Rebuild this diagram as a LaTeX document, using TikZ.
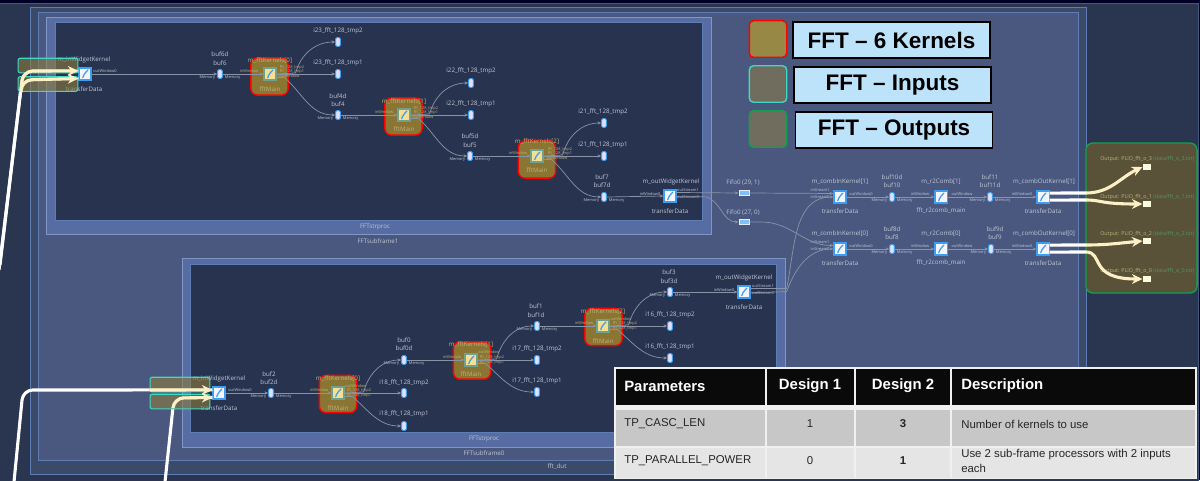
\documentclass[tikz,border=0pt]{standalone}
\usepackage{fontspec}
\setmainfont{Open Sans}
\newfontfamily\arialfont{Liberation Sans}
\usetikzlibrary{arrows.meta}

\definecolor{bgdark}{HTML}{2A3650}
\definecolor{framedut}{HTML}{3A4A68}
\definecolor{framesub}{HTML}{4A5880}
\definecolor{framestr}{HTML}{566CA2}
\definecolor{framelin}{HTML}{5F7DB5}
\definecolor{paneldark}{HTML}{283350}
\definecolor{kernelfill}{HTML}{8A7632}
\definecolor{inputfill}{HTML}{8C7C3C}
\definecolor{outputfill}{HTML}{5A5238}
\definecolor{iconblue}{HTML}{3D9EF0}
\definecolor{creamline}{HTML}{FDF0C4}
\definecolor{wiregray}{HTML}{8A93A5}
\definecolor{legendblue}{HTML}{BDE3FB}
\definecolor{labelgray}{HTML}{C0C6D4}
\definecolor{labeltan}{HTML}{BDB07C}
\definecolor{labelgreen}{HTML}{4E9A62}
\definecolor{tealedge}{HTML}{3FD9BF}
\definecolor{greenedge}{HTML}{10A050}
\definecolor{swatchgray}{HTML}{706C5E}
\definecolor{swatchgold}{HTML}{978845}
\definecolor{fftyellow}{HTML}{F6DF90}
\definecolor{fftedge}{HTML}{6FA090}

\begin{document}
\begin{tikzpicture}[
  x=0.025cm,
  y=-0.025cm,
  nametext/.style={
    text=labelgray,
    font=\fontsize{4.4}{6}\selectfont,
    align=center,
    inner sep=0pt
  },
  porttext/.style={
    text=labelgray,
    font=\fontsize{2.8}{3.2}\selectfont,
    inner sep=0pt
  },
  tantext/.style={nametext, text=labeltan},
  tanport/.style={porttext, text=labeltan},
  outlabel/.style={
    tantext,
    anchor=west,
    font=\fontsize{3.8}{5}\selectfont
  },
  widget/.style={
    draw=iconblue,
    fill=blue!4!white,
    line width=0.8pt,
    minimum size=8.6pt,
    inner sep=0pt,
    path picture={
      \draw[line width=.9pt, color=iconblue, line cap=round]
        ([shift={(-1.6pt,-2.6pt)}]path picture bounding box.center)
        .. controls +(.4pt,2pt) and +(-1pt,-1pt) ..
        ([shift={(2pt,2.8pt)}]path picture bounding box.center);
    }
  },
  fftbox/.style={
    widget,
    draw=fftedge,
    fill=fftyellow
  },
  bufbox/.style={
    draw=iconblue,
    fill=blue!12!white,
    line width=0.6pt,
    rounded corners=1pt,
    minimum width=3.4pt,
    minimum height=6.4pt,
    inner sep=0pt
  },
  membuf/.style={
    bufbox,
    name=#1,
    label={[porttext, name=#1l, anchor=center, xshift=-9pt, yshift=-2.5pt]center:Memory},
    label={[porttext, name=#1r, anchor=center, xshift=9pt, yshift=-2.5pt]center:Memory}
  },
  fifobox/.style={
    draw=blue!8!white,
    fill=iconblue!65!white,
    line width=0.6pt,
    minimum width=7.2pt,
    minimum height=4pt,
    inner sep=0pt
  },
  pliobox/.style={
    fill=green!8!yellow!12!white,
    minimum width=6pt,
    minimum height=4pt,
    inner sep=0pt
  },
  kernelzone/.style={
    draw=red,
    fill=kernelfill,
    line width=1pt,
    rounded corners=4.5pt,
    minimum size=26.4pt,
    inner sep=0pt
  },
  inputzone/.style={
    draw=tealedge,
    fill=inputfill,
    fill opacity=0.6,
    line width=0.8pt,
    rounded corners=1.5pt,
    minimum width=42.5pt,
    minimum height=10.4pt,
    inner sep=0pt
  },
  wire/.style={
    color=wiregray,
    line width=0.5pt,
    -{Stealth[length=2.6pt,width=2.2pt]}
  },
  thickwhite/.style={color=white, line width=2.2pt, rounded corners=7pt},
  thickcream/.style={
    color=creamline,
    line width=2.2pt,
    rounded corners=7pt,
    -{Stealth[length=7.5pt,width=7pt]}
  },
  legendbox/.style={
    draw=black,
    fill=legendblue,
    line width=0.9pt,
    font=\arialfont\bfseries\fontsize{16}{19}\selectfont,
    text=black,
    minimum width=140pt,
    minimum height=25.6pt,
    inner sep=0pt
  },
  swatch/.style={
    line width=1pt,
    rounded corners=3pt,
    minimum width=26.6pt,
    minimum height=26pt,
    inner sep=0pt
  },
  headtext/.style={
    text=white,
    font=\arialfont\bfseries\fontsize{10.6}{12}\selectfont,
    inner sep=0pt
  },
  celltext/.style={
    text=black!85,
    font=\arialfont\fontsize{8.1}{10.4}\selectfont,
    align=left,
    inner sep=0pt
  }
]

% Canvas, 1200 by 480, coordinates in pixels
\path[use as bounding box] (0,0) rectangle (1200,480);
\fill[black!85!blue] (0,0) rectangle (1200,480);
\draw[color=framelin!70!black, fill=bgdark, line width=0.6pt] (-10,3) rectangle (1198,490);

% Nested frames
\draw[color=framelin, fill=framedut, line width=0.7pt] (30,7) rectangle (1086,474);
\draw[color=framelin, fill=framesub, line width=0.7pt] (38,12) rectangle (1078,460);
\draw[color=framelin!80!white, fill=framestr, line width=0.7pt] (46,17) rectangle (711,234);
\draw[color=framelin, fill=paneldark, line width=0.7pt] (55,22) rectangle (702,220);
\draw[color=framelin!80!white, fill=framestr, line width=0.7pt] (182,258) rectangle (785,447);
\draw[color=framelin, fill=paneldark, line width=0.7pt] (190,264) rectangle (776,432);

% Frame captions
\node[nametext] (strproc1) at (375,227) {FFTstrproc};
\node[nametext] (subframe1) at (378,241) {FFTsubframe1};
\node[nametext] (strproc0) at (484,439) {FFTstrproc};
\node[nametext] (subframe0) at (484,453) {FFTsubframe0};
\node[nametext] (dutname) at (557,467) {fft\_dut};

% Kernel zones
\node[kernelzone] (kz0) at (269.5,76.5) {};
\node[kernelzone] (kz1) at (403.5,116.5) {};
\node[kernelzone] (kz2) at (537,159.5) {};
\node[kernelzone] (lz0) at (338,394) {};
\node[kernelzone] (lz1) at (472,360.5) {};
\node[kernelzone] (lz2) at (603.5,327) {};

% Upper processor
\node[widget] (wi1) at (85,74) {};
\node[nametext] (wi1t) at (84,60) {m\_inWidgetKernel};
\node[nametext] (wi1b) at (84,89) {transferData};
\node[porttext] (wi1p) at (105,71) {outWindow0};
\node[nametext] (b6t) at (220,58.5) {buf6d\\buf6};
\node[membuf=b6] at (220,74) {};
\node[fftbox] (kf0) at (270,74) {};
\node[tantext] (kf0t) at (270,61) {m\_fftKernels[0]};
\node[tantext] (kf0b) at (270,89) {fftMain};
\node[tanport] (kf0p) at (249,71) {inWindow};
\node[tanport] (kf0q) at (292,67) {fft\_128\_tmp2};
\node[tanport] (kf0r) at (292,71) {fft\_128\_tmp1};
\node[tanport] (kf0s) at (289,76) {outWindow};
\node[nametext] (t23b) at (338,31) {i23\_fft\_128\_tmp2};
\node[bufbox] (t23) at (338,42) {};
\node[nametext] (t13b) at (338,63) {i23\_fft\_128\_tmp1};
\node[bufbox] (t13) at (338,74) {};
\node[nametext] (b4t) at (338,100) {buf4d\\buf4};
\node[membuf=b4] at (338,115) {};
\node[fftbox] (kf1) at (404,115) {};
\node[tantext] (kf1t) at (404,102) {m\_fftKernels[1]};
\node[tantext] (kf1b) at (404,129.5) {fftMain};
\node[tanport] (kf1p) at (384,112) {inWindow};
\node[tanport] (kf1q) at (426,108) {fft\_128\_tmp2};
\node[tanport] (kf1r) at (426,112) {fft\_128\_tmp1};
\node[tanport] (kf1s) at (423,117) {outWindow};
\node[nametext] (t22b) at (471,71) {i22\_fft\_128\_tmp2};
\node[bufbox] (t22) at (471,83) {};
\node[nametext] (t12b) at (471,104) {i22\_fft\_128\_tmp1};
\node[bufbox] (t12) at (471,115) {};
\node[nametext] (b5t) at (470,140.5) {buf5d\\buf5};
\node[membuf=b5] at (470,156) {};
\node[fftbox] (kf2) at (537,156) {};
\node[tantext] (kf2t) at (537,142) {m\_fftKernels[2]};
\node[tantext] (kf2b) at (537,170.5) {fftMain};
\node[tanport] (kf2p) at (518,153) {inWindow};
\node[tanport] (kf2q) at (560,149) {fft\_128\_tmp2};
\node[tanport] (kf2r) at (560,153) {fft\_128\_tmp1};
\node[tanport] (kf2s) at (557,158) {outWindow};
\node[nametext] (t21b) at (603,112) {i21\_fft\_128\_tmp2};
\node[bufbox] (t21) at (604,123) {};
\node[nametext] (t11b) at (603,145) {i21\_fft\_128\_tmp1};
\node[bufbox] (t11) at (604,156) {};
\node[nametext] (b7t) at (602,181) {buf7\\buf7d};
\node[membuf=b7] at (604,197) {};
\node[widget] (wo1) at (670,196) {};
\node[nametext] (wo1t) at (671,182) {m\_outWidgetKernel};
\node[nametext] (wo1b) at (670,211) {transferData};
\node[porttext] (wo1p) at (650,194) {inWindow0};
\node[porttext] (wo1q) at (688,190) {outStream1};
\node[porttext] (wo1r) at (688,197) {outStream0};

% Stream fifos
\node[nametext] (ff1t) at (743,183) {Fifo0 (29, 1)};
\node[fifobox] (ff1) at (744,193) {};
\node[nametext] (ff0t) at (743,213) {Fifo0 (27, 0)};
\node[fifobox] (ff0) at (744,222) {};

% Combiner, upper row
\node[widget] (wc1) at (840,197) {};
\node[nametext] (wc1t) at (840,182) {m\_combInKernel[1]};
\node[nametext] (wc1b) at (840,211) {transferData};
\node[porttext] (wc1p) at (820,190) {inStream1};
\node[porttext] (wc1q) at (820,197) {inStream0};
\node[porttext] (wc1r) at (861,194) {outWindow0};
\node[nametext] (b10t) at (892,181) {buf10d\\buf10};
\node[membuf=b10] at (892,197) {};
\node[widget] (r1) at (941,197) {};
\node[nametext] (r1t) at (941,182) {m\_r2Comb[1]};
\node[nametext] (r1b) at (941,211) {fft\_r2comb\_main};
\node[porttext] (r1p) at (920,194) {inWindow};
\node[porttext] (r1q) at (962,194) {outWindow};
\node[nametext] (b11t) at (990,181) {buf11\\buf11d};
\node[membuf=b11] at (990,197) {};
\node[widget] (wx1) at (1043,197) {};
\node[nametext] (wx1t) at (1044,182) {m\_combOutKernel[1]};
\node[nametext] (wx1b) at (1043,211) {transferData};
\node[porttext] (wx1p) at (1022,194) {inWindow0};

% Combiner, lower row
\node[widget] (wc0) at (840,249) {};
\node[nametext] (wc0t) at (840,234) {m\_combInKernel[0]};
\node[nametext] (wc0b) at (840,263) {transferData};
\node[porttext] (wc0p) at (820,242) {inStream1};
\node[porttext] (wc0q) at (820,249) {inStream0};
\node[porttext] (wc0r) at (861,246) {outWindow0};
\node[nametext] (b8t) at (892,233) {buf8d\\buf8};
\node[membuf=b8] at (892,249) {};
\node[widget] (r0) at (941,249) {};
\node[nametext] (r0t) at (941,234) {m\_r2Comb[0]};
\node[nametext] (r0b) at (941,263) {fft\_r2comb\_main};
\node[porttext] (r0p) at (920,246) {inWindow};
\node[porttext] (r0q) at (962,246) {outWindow};
\node[nametext] (b9t) at (995,233) {buf9d\\buf9};
\node[membuf=b9] at (991,249) {};
\node[widget] (wx0) at (1043,249) {};
\node[nametext] (wx0t) at (1044,234) {m\_combOutKernel[0]};
\node[nametext] (wx0b) at (1043,263) {transferData};
\node[porttext] (wx0p) at (1022,246) {inWindow0};

% Lower processor
\node[widget] (wi0) at (219,393) {};
\node[nametext] (wi0t) at (219,379) {m\_inWidgetKernel};
\node[nametext] (wi0b) at (219,408) {transferData};
\node[porttext] (wi0p) at (240,390) {outWindow0};
\node[nametext] (b2t) at (269,378) {buf2\\buf2d};
\node[membuf=b2] at (271,393) {};
\node[fftbox] (lf0) at (338,393) {};
\node[tantext] (lf0t) at (338,379) {m\_fftKernels[0]};
\node[tantext] (lf0b) at (338,408) {fftMain};
\node[tanport] (lf0p) at (319,390) {inWindow};
\node[tanport] (lf0q) at (356,386) {outWindow};
\node[tanport] (lf0r) at (359,390) {fft\_128\_tmp2};
\node[tanport] (lf0s) at (359,395) {fft\_128\_tmp1};
\node[nametext] (b0t) at (404,344) {buf0\\buf0d};
\node[membuf=b0] at (404,360) {};
\node[nametext] (t18b) at (404,383) {i18\_fft\_128\_tmp2};
\node[bufbox] (t18) at (404,393) {};
\node[nametext] (t08b) at (404,414) {i18\_fft\_128\_tmp1};
\node[bufbox] (t08) at (404,426) {};
\node[fftbox] (lf1) at (471,360) {};
\node[tantext] (lf1t) at (471,345) {m\_fftKernels[1]};
\node[tantext] (lf1b) at (471,374) {fftMain};
\node[tanport] (lf1p) at (452,357) {inWindow};
\node[tanport] (lf1q) at (489,352) {outWindow};
\node[tanport] (lf1r) at (492,357) {fft\_128\_tmp2};
\node[tanport] (lf1s) at (492,362) {fft\_128\_tmp1};
\node[nametext] (b1t) at (536,310.5) {buf1\\buf1d};
\node[membuf=b1] at (537,326) {};
\node[nametext] (t17b) at (537,349) {i17\_fft\_128\_tmp2};
\node[bufbox] (t17) at (537,360) {};
\node[nametext] (t07b) at (537,381) {i17\_fft\_128\_tmp1};
\node[bufbox] (t07) at (537,392) {};
\node[fftbox] (lf2) at (603,326) {};
\node[tantext] (lf2t) at (603,312) {m\_fftKernels[2]};
\node[tantext] (lf2b) at (603,341) {fftMain};
\node[tanport] (lf2p) at (584,323) {inWindow};
\node[tanport] (lf2q) at (621,319) {outWindow};
\node[tanport] (lf2r) at (625,323) {fft\_128\_tmp2};
\node[tanport] (lf2s) at (625,328) {fft\_128\_tmp1};
\node[nametext] (b3t) at (669,276.5) {buf3\\buf3d};
\node[membuf=b3] at (670,292) {};
\node[nametext] (t16b) at (670,315) {i16\_fft\_128\_tmp2};
\node[bufbox] (t16) at (670,326) {};
\node[nametext] (t06b) at (670,347) {i16\_fft\_128\_tmp1};
\node[bufbox] (t06) at (670,358) {};
\node[widget] (wo0) at (744,292) {};
\node[nametext] (wo0t) at (744,278) {m\_outWidgetKernel};
\node[nametext] (wo0b) at (744,307) {transferData};
\node[porttext] (wo0p) at (724,290) {inWindow0};
\node[porttext] (wo0q) at (763,286) {outStream1};
\node[porttext] (wo0r) at (763,293) {outStream0};

% Upper processor wires
\draw[wire] (wi1.east) -- (b6.west);
\draw[wire] (b6.east) -- (kf0.west);
\draw[wire] (kf0.east) -- ++(19,-1) to[out=75,in=180] (t23.west);
\draw[wire] (kf0.east) -- (t13.west);
\draw[wire] ([yshift=-2.5pt]kf0.east) -- ++(8,0) to[out=-42,in=180] (b4.west);
\draw[wire] (b4.east) -- (kf1.west);
\draw[wire] (kf1.east) -- ++(19,-1) to[out=75,in=180] (t22.west);
\draw[wire] (kf1.east) -- (t12.west);
\draw[wire] ([yshift=-2.5pt]kf1.east) -- ++(8,0) to[out=-42,in=180] (b5.west);
\draw[wire] (b5.east) -- (kf2.west);
\draw[wire] (kf2.east) -- ++(19,-1) to[out=75,in=180] (t21.west);
\draw[wire] (kf2.east) -- (t11.west);
\draw[wire] ([yshift=-2.5pt]kf2.east) -- ++(8,0) to[out=-42,in=180] (b7.west);
\draw[wire] (b7.east) -- (wo1.west);

% Lower processor wires
\draw[wire] (wi0.east) -- (b2.west);
\draw[wire] (b2.east) -- (lf0.west);
\draw[wire] (lf0.east) -- ++(19,-1) to[out=75,in=180] (b0.west);
\draw[wire] (lf0.east) -- (t18.west);
\draw[wire] ([yshift=-2.5pt]lf0.east) -- ++(8,0) to[out=-42,in=180] (t08.west);
\draw[wire] (b0.east) -- (lf1.west);
\draw[wire] (lf1.east) -- ++(19,-1) to[out=75,in=180] (b1.west);
\draw[wire] (lf1.east) -- (t17.west);
\draw[wire] ([yshift=-2.5pt]lf1.east) -- ++(8,0) to[out=-42,in=180] (t07.west);
\draw[wire] (b1.east) -- (lf2.west);
\draw[wire] (lf2.east) -- ++(19,-1) to[out=75,in=180] (b3.west);
\draw[wire] (lf2.east) -- (t16.west);
\draw[wire] ([yshift=-2.5pt]lf2.east) -- ++(8,0) to[out=-42,in=180] (t06.west);
\draw[wire] (b3.east) -- (wo0.west);

% Streams into the combiners
\draw[wire] ([yshift=2.5pt]wo1.east) -- (ff1.west);
\draw[wire] (ff1.east) -- ([yshift=2.5pt]wc1.west);
\draw[wire] ([yshift=-.5pt]wo1.east) -- ++(28,0) to[out=-10,in=180] (ff0.west);
\draw[wire] (ff0.east) -- ++(12,0) to[out=0,in=180] ([yshift=2.5pt]wc0.west);
\draw[wire] ([yshift=2.5pt]wo0.east) -- ++(36,0) to[out=78,in=180] (wc1.west);
\draw[wire] ([yshift=-.5pt]wo0.east) -- ++(36,-1) to[out=70,in=180] (wc0.west);

% Combiner wires
\draw[wire] (wc1.east) -- (b10.west);
\draw[wire] (b10.east) -- (r1.west);
\draw[wire] (r1.east) -- (b11.west);
\draw[wire] (b11.east) -- (wx1.west);
\draw[wire] (wc0.east) -- (b8.west);
\draw[wire] (b8.east) -- (r0.west);
\draw[wire] (r0.east) -- (b9.west);
\draw[wire] (b9.east) -- (wx0.west);

% Output zone
\node[
  draw=greenedge,
  fill=outputfill,
  line width=1pt,
  rounded corners=5pt,
  minimum width=79pt,
  minimum height=106.7pt,
  inner sep=0pt
] (outzone) at (1141.5,218) {};
\node[pliobox] (po3) at (1147,167) {};
\node[pliobox] (po1) at (1147,204) {};
\node[pliobox] (po2) at (1147,241) {};
\node[pliobox] (po0) at (1147,279) {};
\node[outlabel] (po3t) at (1100,159) {Output: PLIO\_fft\_o\_3 \textcolor{labelgreen}{(data/fft\_o\_3.txt)}};
\node[outlabel] (po1t) at (1100,197) {Output: PLIO\_fft\_o\_1 \textcolor{labelgreen}{(data/fft\_o\_1.txt)}};
\node[outlabel] (po2t) at (1100,234) {Output: PLIO\_fft\_o\_2 \textcolor{labelgreen}{(data/fft\_o\_2.txt)}};
\node[outlabel] (po0t) at (1100,271) {Output: PLIO\_fft\_o\_0 \textcolor{labelgreen}{(data/fft\_o\_0.txt)}};

% Output streams
\coordinate (ex3) at (1086,193);
\coordinate (ex1) at (1086,200);
\coordinate (ex2) at (1086,245);
\coordinate (ex0) at (1086,252);
\draw[thickwhite] ([yshift=2.8pt]wx1.east) -- (ex3);
\draw[thickwhite] ([yshift=-2.2pt]wx1.east) -- (ex1);
\draw[thickwhite] ([yshift=2.8pt]wx0.east) -- (ex2);
\draw[thickwhite] ([yshift=-2.2pt]wx0.east) -- (ex0);
\draw[thickcream] (ex3) to[out=0,in=205] (po3.west);
\draw[thickcream] (ex1) .. controls (1102,200) and (1100,204) .. (po1.west);
\draw[thickcream] (ex2) to[out=0,in=185] (po2.west);
\draw[thickcream] (ex0) .. controls (1104,252) and (1088,279) .. (po0.west);

% Input streams, upper processor
\coordinate (in3) at (0,265);
\coordinate (in1) at (-1,270);
\coordinate (cr3) at (21,90);
\coordinate (cr1) at (21,92);
\draw[thickwhite] (in3) -- (23,71) -- ([yshift=2.2pt]wi1.west);
\draw[thickwhite] (in1) -- (22,80) -- ([yshift=-3.2pt]wi1.west);
\node[inputzone] (iz3) at (48,65.5) {};
\node[inputzone] (iz1) at (48,84) {};
\draw[thickcream] (cr3) -- (23,71) -- ([yshift=2.2pt]wi1.west);
\draw[thickcream] (cr1) -- (22,80) -- ([yshift=-3.2pt]wi1.west);

% Input streams, lower processor
\coordinate (in2) at (14,482);
\coordinate (in0) at (165,482);
\coordinate (cr2) at (150,390);
\coordinate (cr0) at (173,408);
\draw[thickwhite] (in2) -- (23,390) -- ([yshift=2.2pt]wi0.west);
\draw[thickwhite] (in0) -- (174,398) -- ([yshift=-3.2pt]wi0.west);
\node[inputzone] (iz2) at (180,384.5) {};
\node[inputzone] (iz0) at (180,401.5) {};
\draw[thickcream] (cr2) -- ([yshift=2.2pt]wi0.west);
\draw[thickcream] (cr0) -- (174,398) -- ([yshift=-3.2pt]wi0.west);

% Legend
\node[swatch, draw=red, fill=swatchgold] (sw1) at (768,39) {};
\node[swatch, draw=tealedge, fill=swatchgray] (sw2) at (768,84) {};
\node[swatch, draw=greenedge, fill=swatchgray] (sw3) at (768,129) {};
\node[legendbox] (lg1) at (891.5,40) {FFT – 6 Kernels};
\node[legendbox] (lg2) at (892.5,85) {FFT – Inputs};
\node[legendbox] (lg3) at (894,130) {FFT – Outputs};

% Table
\fill[black!6] (614,367) rectangle (1197,479);
\fill[black!96] (616,369) rectangle (765,405);
\fill[black!96] (767,369) rectangle (854,405);
\fill[black!96] (856,369) rectangle (950,405);
\fill[black!96] (952,369) rectangle (1195,405);
\fill[black!22] (616,410) rectangle (765,446);
\fill[black!22] (767,410) rectangle (854,446);
\fill[black!22] (856,410) rectangle (950,446);
\fill[black!22] (952,410) rectangle (1195,446);
\fill[black!10] (616,448) rectangle (765,478);
\fill[black!10] (767,448) rectangle (854,478);
\fill[black!10] (856,448) rectangle (950,478);
\fill[black!10] (952,448) rectangle (1195,478);

\node[headtext, anchor=west] (hd1) at (624,386) {Parameters};
\node[headtext] (hd2) at (810,386) {Design 1};
\node[headtext] (hd3) at (903,386) {Design 2};
\node[headtext, anchor=west] (hd4) at (961,386) {Description};
\node[celltext, anchor=west] (ca1) at (624,424) {TP\_CASC\_LEN};
\node[celltext] (ca2) at (810,424) {1};
\node[celltext, font=\arialfont\bfseries\fontsize{8.1}{10}\selectfont] (ca3) at (903,424) {3};
\node[celltext, anchor=west] (ca4) at (961,424) {Number of kernels to use};
\node[celltext, anchor=west] (cb1) at (624,461) {TP\_PARALLEL\_POWER};
\node[celltext] (cb2) at (810,461) {0};
\node[celltext, font=\arialfont\bfseries\fontsize{8.1}{10}\selectfont] (cb3) at (903,461) {1};
\node[celltext, anchor=west] (cb4) at (961,461) {Use 2 sub-frame processors with 2 inputs\\each};

\end{tikzpicture}
\end{document}
